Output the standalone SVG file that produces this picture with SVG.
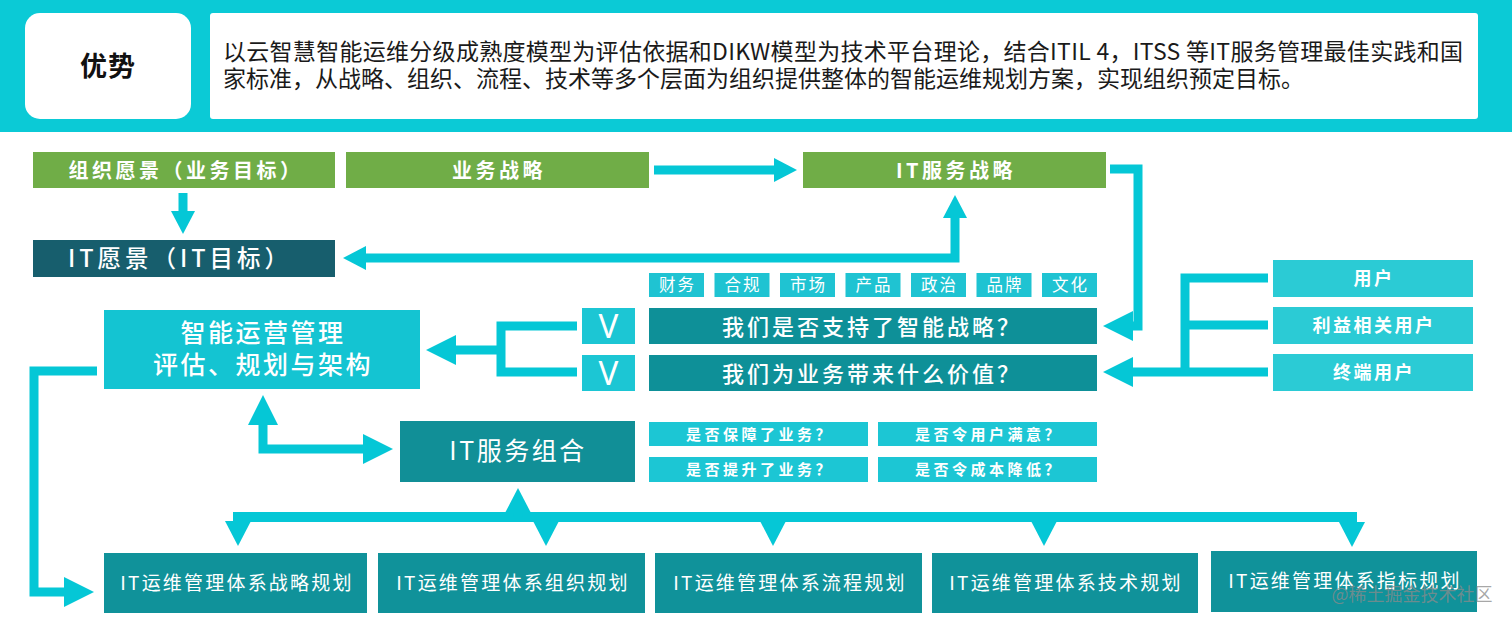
<svg xmlns="http://www.w3.org/2000/svg" width="1512" height="624" viewBox="0 0 1512 624">
<defs>
<style>
text { font-family: "Noto Sans CJK SC", "Noto Sans", sans-serif; fill: #ffffff; text-anchor: middle; }
.hdr { fill: #1a1a1a; text-anchor: start; font-size: 23px; }
.green { fill: #70ad47; }
.tag { fill: #1fc3d2; }
.teal { fill: #0e9098; }
.cyan { fill: #1cc6d4; }
.user { fill: #2bcbd5; }
.plan { fill: #10929a; }
.t20 { font-size: 20px; font-weight: 700; letter-spacing: 3.5px; }
.t16 { font-size: 16.5px; letter-spacing: 2px; }
.tq { font-size: 22px; font-weight: 500; letter-spacing: 3px; }
.ts { font-size: 15px; font-weight: 700; letter-spacing: 3.5px; }
.tp { font-size: 19px; letter-spacing: 2.2px; }
.tu { font-size: 18px; font-weight: 700; letter-spacing: 2.5px; }
.conn { fill: none; stroke: #05c7d6; stroke-width: 9; stroke-linejoin: miter; }
</style>
<marker id="ah" markerUnits="userSpaceOnUse" viewBox="0 0 30 30" markerWidth="30" markerHeight="30" refX="1" refY="15" orient="auto-start-reverse">
<path d="M0,0 L30,15 L0,30 Z" fill="#05c7d6"/>
</marker>
<marker id="ahs" markerUnits="userSpaceOnUse" viewBox="0 0 23 24" markerWidth="23" markerHeight="24" refX="1" refY="12" orient="auto-start-reverse">
<path d="M0,0 L23,12 L0,24 Z" fill="#05c7d6"/>
</marker>
<marker id="ahb" markerUnits="userSpaceOnUse" viewBox="0 0 25 26" markerWidth="25" markerHeight="26" refX="1" refY="13" orient="auto">
<path d="M0,0 L25,13 L0,26 Z" fill="#05c7d6"/>
</marker>
</defs>

<rect x="0" y="0" width="1512" height="624" fill="#ffffff"/>
<rect x="0" y="0" width="1512" height="132" fill="#0bcad6"/>

<g id="youshi">
<rect x="25" y="13" width="166" height="106" rx="15" fill="#ffffff"/>
<text x="108" y="76" style="font-size:27px;font-weight:700;fill:#111;letter-spacing:1px">优势</text>
</g>
<g id="desc">
<rect x="210" y="13" width="1268" height="106" rx="3" fill="#ffffff"/>
<text class="hdr" x="223" y="59.5" textLength="1240" lengthAdjust="spacing">以云智慧智能运维分级成熟度模型为评估依据和DIKW模型为技术平台理论，结合ITIL 4，ITSS 等IT服务管理最佳实践和国</text>
<text class="hdr" x="223" y="87">家标准，从战略、组织、流程、技术等多个层面为组织提供整体的智能运维规划方案，实现组织预定目标。</text>
</g>

<g id="connectors">
<path class="conn" d="M654,170 H775" marker-end="url(#ahs)"/>
<path class="conn" d="M183,193 V212" marker-end="url(#ahs)"/>
<path class="conn" d="M365,258 H955 V217" marker-start="url(#ahs)" marker-end="url(#ahs)"/>
<path class="conn" d="M1110,169 H1138 V326 H1132" marker-end="url(#ah)"/>
<path class="conn" d="M1268,278 H1185 V372"/>
<path class="conn" d="M1268,325 H1185"/>
<path class="conn" d="M1268,372 H1132" marker-end="url(#ah)"/>
<path class="conn" d="M577,326 H501 V372 H577"/>
<path class="conn" d="M501,350 H455" marker-end="url(#ah)"/>
<path class="conn" d="M263,424 V449 H364" marker-start="url(#ah)" marker-end="url(#ah)"/>
<path class="conn" d="M97,371 H34 V592 H65" marker-end="url(#ah)"/>
<path class="conn" d="M233,517 H1357" style="stroke-width:10"/>
<path class="conn" d="M518,517 V512" marker-end="url(#ahb)"/>
<path class="conn" d="M238,517 V522" marker-end="url(#ahb)"/>
<path class="conn" d="M546,517 V522" marker-end="url(#ahb)"/>
<path class="conn" d="M773,517 V522" marker-end="url(#ahb)"/>
<path class="conn" d="M1044,517 V522" marker-end="url(#ahb)"/>
<path class="conn" d="M1352,517 V523" marker-end="url(#ahb)"/>
</g>

<g id="org-vision">
<rect class="green" x="33" y="152" width="302" height="36"/>
<text class="t20" x="186" y="177.5">组织愿景（业务目标）</text>
</g>
<g id="biz-strategy">
<rect class="green" x="346" y="152" width="303" height="36"/>
<text class="t20" x="499" y="177.5">业务战略</text>
</g>
<g id="it-service-strategy">
<rect class="green" x="803" y="152" width="303" height="36"/>
<text class="t20" x="956" y="177.5">IT服务战略</text>
</g>
<g id="it-vision">
<rect x="33" y="240" width="302" height="37" fill="#175e6d"/>
<text x="180" y="267" style="font-size:23.5px;font-weight:500;letter-spacing:4px">IT愿景（IT目标）</text>
</g>

<g id="tags">
<rect class="tag" x="649" y="273" width="55" height="24"/><text class="t16" x="677.5" y="291">财务</text>
<rect class="tag" x="714.5" y="273" width="55" height="24"/><text class="t16" x="743" y="291">合规</text>
<rect class="tag" x="780" y="273" width="55" height="24"/><text class="t16" x="808.5" y="291">市场</text>
<rect class="tag" x="845.5" y="273" width="55" height="24"/><text class="t16" x="874" y="291">产品</text>
<rect class="tag" x="911" y="273" width="55" height="24"/><text class="t16" x="939.5" y="291">政治</text>
<rect class="tag" x="976.5" y="273" width="55" height="24"/><text class="t16" x="1005" y="291">品牌</text>
<rect class="tag" x="1042" y="273" width="55" height="24"/><text class="t16" x="1070.5" y="291">文化</text>
</g>

<g id="v1">
<rect class="cyan" x="582" y="308" width="53" height="36"/>
<text x="608.5" y="338" style="font-family:'Noto Sans',sans-serif;font-size:33px">V</text>
</g>
<g id="v2">
<rect class="cyan" x="582" y="355" width="53" height="36"/>
<text x="608.5" y="385" style="font-family:'Noto Sans',sans-serif;font-size:33px">V</text>
</g>
<g id="q-strategy">
<rect class="teal" x="649" y="308" width="448" height="36"/>
<text class="tq" x="872" y="334.5">我们是否支持了智能战略？</text>
</g>
<g id="q-value">
<rect class="teal" x="649" y="355" width="448" height="36"/>
<text class="tq" x="872" y="381.5">我们为业务带来什么价值？</text>
</g>

<g id="ops-mgmt">
<rect x="104" y="310" width="316" height="79" fill="#14c4d2"/>
<text x="263" y="342" style="font-size:25px;font-weight:500;letter-spacing:2.5px">智能运营管理</text>
<text x="263" y="374" style="font-size:25px;font-weight:500;letter-spacing:2.5px">评估、规划与架构</text>
</g>

<g id="user">
<rect class="user" x="1273" y="260" width="200" height="37"/>
<text class="tu" x="1374" y="285">用户</text>
</g>
<g id="stakeholder">
<rect class="user" x="1273" y="307" width="200" height="37"/>
<text class="tu" x="1374" y="332">利益相关用户</text>
</g>
<g id="end-user">
<rect class="user" x="1273" y="354" width="200" height="37"/>
<text class="tu" x="1374" y="379">终端用户</text>
</g>

<g id="it-portfolio">
<rect x="400" y="421" width="235" height="61" fill="#118f97"/>
<text x="518" y="460" style="font-size:25px;letter-spacing:2.5px">IT服务组合</text>
</g>

<g id="small-questions">
<rect class="cyan" x="649" y="422" width="219" height="24"/><text class="ts" x="760" y="439.5">是否保障了业务？</text>
<rect class="cyan" x="878" y="422" width="219" height="24"/><text class="ts" x="989" y="439.5">是否令用户满意？</text>
<rect class="cyan" x="649" y="457" width="219" height="25"/><text class="ts" x="760" y="475">是否提升了业务？</text>
<rect class="cyan" x="878" y="457" width="219" height="25"/><text class="ts" x="989" y="475">是否令成本降低？</text>
</g>

<g id="plan-strategy">
<rect class="plan" x="104" y="553" width="263" height="60"/>
<text class="tp" x="237" y="590">IT运维管理体系战略规划</text>
</g>
<g id="plan-org">
<rect class="plan" x="378" y="553" width="267" height="60"/>
<text class="tp" x="513" y="590">IT运维管理体系组织规划</text>
</g>
<g id="plan-process">
<rect class="plan" x="655" y="553" width="267" height="60"/>
<text class="tp" x="790" y="590">IT运维管理体系流程规划</text>
</g>
<g id="plan-tech">
<rect class="plan" x="932" y="553" width="266" height="60"/>
<text class="tp" x="1066" y="590">IT运维管理体系技术规划</text>
</g>
<g id="plan-metric">
<rect class="plan" x="1211" y="551" width="266" height="61"/>
<text class="tp" x="1345" y="588">IT运维管理体系指标规划</text>
</g>

<text x="1412" y="601" style="font-size:18px;fill:#8a8a8a;fill-opacity:0.75">@稀土掘金技术社区</text>
</svg>
